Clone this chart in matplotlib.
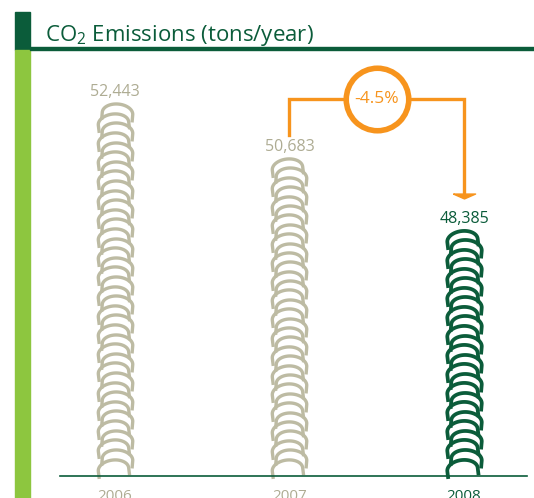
import numpy as np
import matplotlib.pyplot as plt
from matplotlib.path import Path
from matplotlib.markers import MarkerStyle
from matplotlib.transforms import Affine2D
from matplotlib.patches import Rectangle

plt.rcParams['font.family'] = ['Open Sans', 'DejaVu Sans']
plt.rcParams['mathtext.fontset'] = 'custom'
plt.rcParams['mathtext.rm'] = 'Open Sans'

# data
years = ["2006", "2007", "2008"]
emissions = [52443, 50683, 48385]

dark_green = '#0b5c3a'
light_green = '#8dc63f'
beige = '#bdbba3'
beige_text = '#aeac93'
orange = '#f7941d'
bar_colors = [beige, beige, dark_green]
text_colors = [beige_text, beige_text, dark_green]

W, H = 534, 498
fig = plt.figure(figsize=(W/100, H/100), dpi=100)

def fx(px):
    return px/W

def fy(py):
    return 1 - py/H

# header decoration
fig.patches.append(Rectangle((fx(15), fy(50)), fx(15), 38/H, color=dark_green,
                             transform=fig.transFigure, figure=fig))
fig.patches.append(Rectangle((fx(15), 0), fx(15), fy(50), color=light_green,
                             transform=fig.transFigure, figure=fig))
fig.patches.append(Rectangle((fx(30), fy(50)), 1, 2.5/H, color=dark_green,
                             transform=fig.transFigure, figure=fig))
fig.text(fx(45), fy(41), r"CO$_{\mathrm{2}}$ Emissions (tons/year)", fontsize=16,
         color=dark_green, va='baseline', ha='left')

ax = fig.add_axes([fx(60), fy(476), (527-60)/W, (476-50)/H])
ax.set_xlim(-0.315, 2.361)
ax.set_ylim(40480, 54150)
ty = (54150 - 40480)/426.0     # tons per pixel
tx = 2.676/467.0               # x units per pixel

# arch glyph (half-width 1 -> 15 px)
t = np.linspace(np.pi, 0, 40)
verts = [(-1, -0.5)] + list(zip(np.cos(t), 0.62*np.sin(t))) + [(1, -0.5)]
arch = Path(verts)
arch_l = MarkerStyle(arch, transform=Affine2D().rotate_deg(7))
arch_r = MarkerStyle(arch, transform=Affine2D().rotate_deg(-5))

y0 = ax.get_ylim()[0]
for i, v in enumerate(emissions):
    start = y0 + 7.5*ty
    top = v - 10*ty
    n = int(round((top - start)/(9.5*ty))) + 1
    ys = np.linspace(start, top, n)
    lw = 2.7 if i == 2 else 2.4
    ax.plot(np.full(len(ys[0::2]), i - 2*tx), ys[0::2], ls='none', marker=arch_l,
            ms=22, mfc='none', mec=bar_colors[i], mew=lw, clip_on=False)
    ax.plot(np.full(len(ys[1::2]), i + 2*tx), ys[1::2], ls='none', marker=arch_r,
            ms=22, mfc='none', mec=bar_colors[i], mew=lw, clip_on=False)
    ax.annotate(f"{v:,}", (i, v), xytext=(0, 7), textcoords='offset pixels',
                ha='center', va='baseline', fontsize=11.5, color=text_colors[i])

# change bracket 2007 -> 2008
level = max(emissions) + 4*ty
left_end = emissions[1] + 23*ty
right_end = emissions[2] + 34*ty
ax.plot([1, 1, 2, 2], [left_end, level, level, right_end], color=orange, lw=2.4,
        solid_joinstyle='miter', clip_on=False)
head = Path([(-1, 0.22), (1, 0.22), (0, -0.22), (-1, 0.22)])
ax.plot([2], [right_end], ls='none', marker=head, ms=16, color=orange, clip_on=False)
ring, = ax.plot([1.5], [level], ls='none', marker='o', ms=45, mfc='white', mec=orange,
                mew=4, clip_on=False)
ring.set_sketch_params(scale=1.2, length=6, randomness=8)
change = (emissions[2] - emissions[1])/emissions[1]*100
ax.text(1.5, level, f"{change:.1f}%", ha='center', va='center', fontsize=12.5, color=orange)

ax.set_xticks(range(len(years)))
ax.set_xticklabels(years, fontsize=11)
for lab, c in zip(ax.get_xticklabels(), text_colors):
    lab.set_color(c)
ax.tick_params(axis='x', length=0, pad=9)
ax.set_yticks([])
for s in ['top', 'left', 'right']:
    ax.spines[s].set_visible(False)
ax.spines['bottom'].set_color(dark_green)
ax.spines['bottom'].set_linewidth(1.2)
ax.patch.set_alpha(0)

fig.savefig('out.png', dpi=100)
